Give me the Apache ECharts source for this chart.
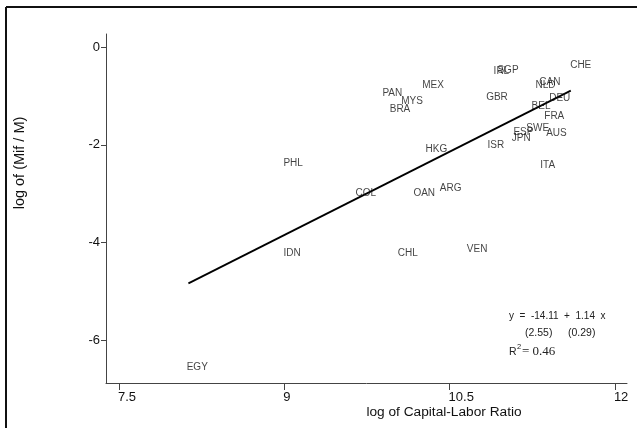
<!DOCTYPE html>
<html>
<head>
<meta charset="utf-8">
<script src="https://cdn.jsdelivr.net/npm/echarts@6/dist/echarts.min.js"></script>
<style>html,body{margin:0;padding:0;background:#fff}#c{width:637px;height:428px}</style>
</head>
<body>
<div id="c"></div>
<script>
// Country codes
const countries = ['CHE','IRL','SGP','CAN','NLD','DEU','BEL','FRA','SWE','ESP','JPN','AUS','ISR','ITA','GBR','MEX','PAN','MYS','BRA','HKG','PHL','COL','OAN','ARG','IDN','CHL','VEN','EGY'];
// log of Capital-Labor Ratio
const capitalLabor = [11.69,10.97,11.03,11.41,11.37,11.50,11.33,11.45,11.30,11.17,11.15,11.47,10.92,11.39,10.93,10.35,9.98,10.16,10.05,10.38,9.08,9.74,10.27,10.51,9.07,10.12,10.75,8.21];
// log of (Mif / M)
const logMifM = [-0.37,-0.50,-0.48,-0.72,-0.78,-1.04,-1.21,-1.41,-1.66,-1.74,-1.86,-1.76,-2.00,-2.41,-1.02,-0.78,-0.94,-1.10,-1.27,-2.09,-2.37,-2.99,-2.99,-2.88,-4.23,-4.23,-4.15,-6.56];
// Fitted regression line endpoints
const fitX = [8.13, 11.60];
const fitY = [-4.84, -0.89];
// Tick labels
const xTicks = [7.5, 9, 10.5, 12];
const yTicks = [0, -2, -4, -6];

const pts = countries.map((c,i)=>[capitalLabor[i], logMifM[i], c]);
const fitLine = fitX.map((x,i)=>[x, fitY[i]]);

const chart = echarts.init(document.getElementById('c'), null, {renderer:'canvas'});
const FONT = 'Liberation Sans, Arial, sans-serif';
chart.setOption({
  animation:false,
  backgroundColor:'#fff',
  grid:{left:106, right:10, top:34, bottom:45, containLabel:false},
  xAxis:{
    type:'value', min:7.382, max:12.11,
    splitLine:{show:false},
    axisLine:{show:true, onZero:false, lineStyle:{color:'#444', width:1}},
    axisTick:{show:true, length:7, customValues:xTicks, lineStyle:{color:'#444'}},
    axisLabel:{customValues:xTicks, align:'left', margin:8, color:'#111', fontSize:13, fontFamily:FONT, padding:[0,0,0,-1]},
  },
  yAxis:{
    type:'value', min:-6.88, max:0.27,
    splitLine:{show:false},
    axisLine:{show:true, onZero:false, lineStyle:{color:'#444', width:1}},
    axisTick:{show:true, length:5, customValues:yTicks, lineStyle:{color:'#444'}},
    axisLabel:{customValues:yTicks, margin:6, color:'#111', fontSize:13, fontFamily:FONT},
  },
  series:[
    {
      type:'scatter', data:pts, symbolSize:2, symbol:'circle',
      itemStyle:{color:'rgba(0,0,0,0)'},
      label:{show:true, position:'inside', formatter:p=>p.data[2], color:'#111', fontSize:10, fontFamily:FONT, textBorderWidth:0, textBorderColor:'transparent'},
      labelLayout:{hideOverlap:false},
      z:3
    },
    {
      type:'line', data:fitLine, showSymbol:false, symbol:'none',
      lineStyle:{color:'#000', width:1.8}, z:2
    }
  ],
  graphic:[
    {type:'line', shape:{x1:6,y1:7,x2:637,y2:7}, style:{stroke:'#111', lineWidth:2}},
    {type:'line', shape:{x1:6,y1:7,x2:6,y2:428}, style:{stroke:'#111', lineWidth:2}},
    {type:'text', x:444, y:412, style:{text:'log of Capital-Labor Ratio', align:'center', verticalAlign:'middle', font:'13.7px '+FONT, fill:'#111'}},
    {type:'text', x:20, y:163, rotation:Math.PI/2, style:{text:'log of (Mif / M)', align:'center', verticalAlign:'middle', font:'14.5px '+FONT, fill:'#111'}},
    {type:'text', x:509, y:316, style:{text:'y  =  -14.11  +  1.14  x', align:'left', verticalAlign:'middle', font:'10px '+FONT, fill:'#222'}},
    {type:'text', x:525, y:333, style:{text:'(2.55)', align:'left', verticalAlign:'middle', font:'10.5px '+FONT, fill:'#222'}},
    {type:'text', x:568, y:333, style:{text:'(0.29)', align:'left', verticalAlign:'middle', font:'10.5px '+FONT, fill:'#222'}},
    {type:'text', x:509, y:352, style:{text:'R', align:'left', verticalAlign:'middle', font:'10.5px '+FONT, fill:'#222'}},
    {type:'text', x:517, y:347, style:{text:'2', align:'left', verticalAlign:'middle', font:'7.5px '+FONT, fill:'#222'}},
    {type:'text', x:522, y:352, style:{text:'= 0.46', align:'left', verticalAlign:'middle', font:'13px Liberation Serif, Times New Roman, serif', fill:'#222'}}
  ]
});
</script>
</body>
</html>
